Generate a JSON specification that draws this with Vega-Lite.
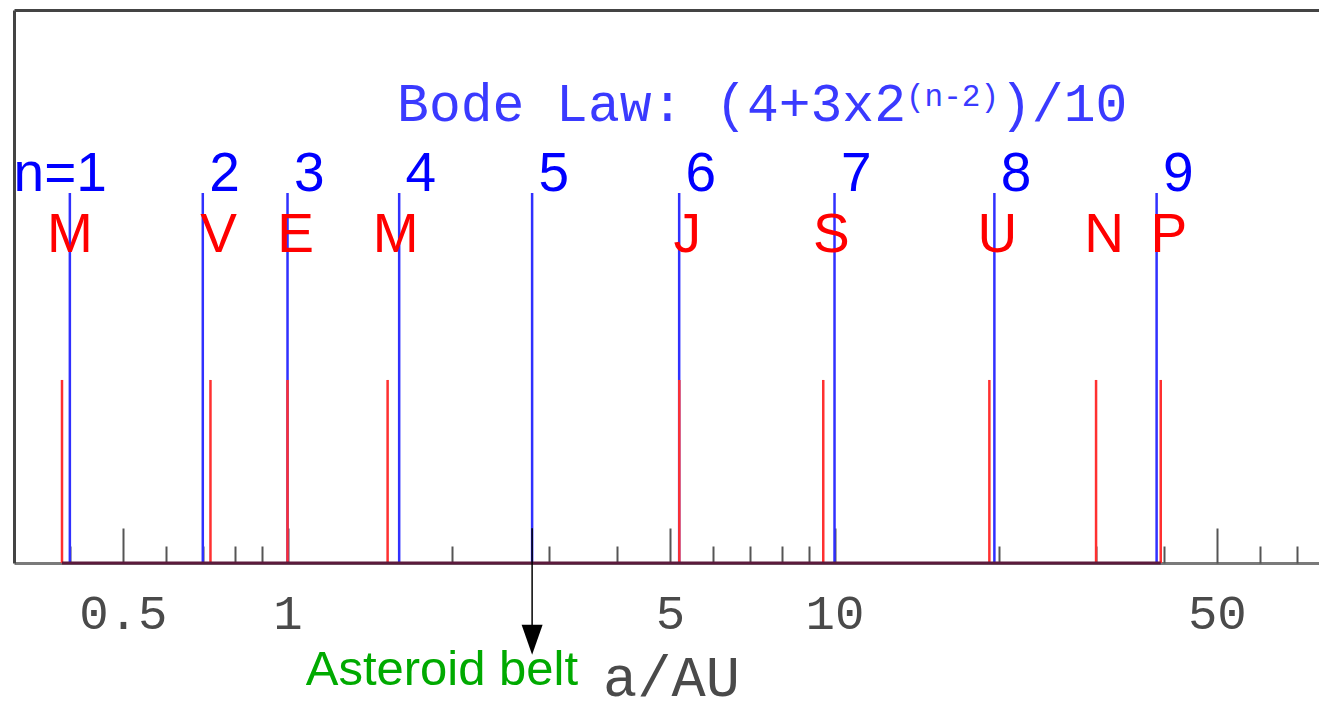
{
  "$schema": "https://vega.github.io/schema/vega-lite/v6.json",
  "width": 1305,
  "height": 553,
  "autosize": {"type": "none"},
  "padding": {"left": 14, "top": 10, "right": 0, "bottom": 148},
  "background": "white",
  "config": {"view": {"stroke": null}},
  "datasets": {
    "bode": [
      {"n": 1, "a": 0.4, "label": "n=1"},
      {"n": 2, "a": 0.7, "label": "2"},
      {"n": 3, "a": 1.0, "label": "3"},
      {"n": 4, "a": 1.6, "label": "4"},
      {"n": 5, "a": 2.8, "label": "5"},
      {"n": 6, "a": 5.2, "label": "6"},
      {"n": 7, "a": 10.0, "label": "7"},
      {"n": 8, "a": 19.6, "label": "8"},
      {"n": 9, "a": 38.8, "label": "9"}
    ],
    "planets": [
      {"planet": "Mercury", "a": 0.387, "label": "M"},
      {"planet": "Venus", "a": 0.723, "label": "V"},
      {"planet": "Earth", "a": 1.0, "label": "E"},
      {"planet": "Mars", "a": 1.524, "label": "M"},
      {"planet": "Jupiter", "a": 5.203, "label": "J"},
      {"planet": "Saturn", "a": 9.537, "label": "S"},
      {"planet": "Uranus", "a": 19.19, "label": "U"},
      {"planet": "Neptune", "a": 30.07, "label": "N"},
      {"planet": "Pluto", "a": 39.48, "label": "P"}
    ],
    "belt": [{"a": 2.8, "label": "Asteroid belt"}],
    "formula": [
      {"part": "main", "text": "Bode Law: (4+3x2"},
      {"part": "sup", "text": "(n-2)"},
      {"part": "tail", "text": ")/10"}
    ]
  },
  "resolve": {"axis": {"x": "independent", "y": "independent"}},
  "layer": [
    {
      "data": {"name": "bode"},
      "mark": {"type": "rule", "color": "#3030ff", "strokeWidth": 2.5},
      "encoding": {
        "x": {
          "field": "a", "type": "quantitative",
          "scale": {"type": "log", "domain": [0.3162, 76.86], "nice": false},
          "axis": {
            "orient": "bottom", "values": [0.5, 1, 5, 10, 50], "format": "~g",
            "ticks": false, "grid": false, "domain": true, "domainColor": "#7a7a7a", "domainWidth": 3,
            "labelFont": "Liberation Mono", "labelFontSize": 49, "labelColor": "#4a4a4a",
            "labelBaseline": "alphabetic", "labelPadding": 65, "labelFlush": false, "labelOverlap": false,
            "title": "a/AU", "titleFont": "Liberation Mono", "titleFontSize": 57, "titleFontWeight": "normal",
            "titleColor": "#4a4a4a", "titleBaseline": "alphabetic", "titleX": 657, "titleY": 132
          }
        },
        "y": {
          "datum": 66.9, "type": "quantitative",
          "scale": {"domain": [0, 100], "nice": false, "zero": false},
          "axis": {"orient": "left", "labels": false, "ticks": false, "grid": false, "domain": true, "domainColor": "#444", "domainWidth": 3, "title": null}
        },
        "y2": {"datum": 0}
      }
    },
    {
      "data": {"name": "planets"},
      "mark": {"type": "rule", "color": "#ff3030", "strokeWidth": 2.5},
      "encoding": {
        "x": {
          "field": "a", "type": "quantitative",
          "scale": {"type": "log", "domain": [0.3162, 76.86], "nice": false},
          "axis": {"orient": "bottom", "values": [0.5, 1, 5, 10, 50], "labels": false, "domain": false, "grid": false, "ticks": true, "tickSize": -35, "tickColor": "#555", "tickWidth": 2, "title": null}
        },
        "y": {"datum": 33.1, "type": "quantitative", "scale": {"domain": [0, 100], "nice": false, "zero": false}, "axis": null},
        "y2": {"datum": 0}
      }
    },
    {
      "data": {"name": "planets"},
      "mark": {"type": "rule", "color": "#5c1a3c", "strokeWidth": 3},
      "encoding": {
        "x": {
          "aggregate": "min", "field": "a", "type": "quantitative",
          "scale": {"type": "log", "domain": [0.3162, 76.86], "nice": false},
          "axis": {"orient": "bottom", "values": [0.4, 0.6, 0.7, 0.8, 0.9, 2, 3, 4, 6, 7, 8, 9, 20, 30, 40, 60, 70], "labels": false, "domain": false, "grid": false, "ticks": true, "tickSize": -17, "tickColor": "#555", "tickWidth": 2, "title": null}
        },
        "x2": {"aggregate": "max", "field": "a"},
        "y": {"datum": 0, "type": "quantitative", "scale": {"domain": [0, 100], "nice": false, "zero": false}, "axis": null}
      }
    },
    {
      "data": {"name": "bode"},
      "mark": {"type": "text", "font": "Liberation Sans", "fontSize": 55, "color": "#0000ff", "align": "right", "dx": 37, "baseline": "alphabetic"},
      "encoding": {
        "x": {
          "field": "a", "type": "quantitative",
          "scale": {"type": "log", "domain": [0.3162, 76.86], "nice": false},
          "axis": {"orient": "top", "labels": false, "ticks": false, "grid": false, "domain": true, "domainColor": "#444", "domainWidth": 3, "title": null}
        },
        "y": {"datum": 67.2, "type": "quantitative", "scale": {"domain": [0, 100], "nice": false, "zero": false}, "axis": null},
        "text": {"field": "label"}
      }
    },
    {
      "data": {"name": "planets"},
      "mark": {"type": "text", "font": "Liberation Sans", "fontSize": 55, "color": "#ff0000", "align": "center", "dx": 8, "baseline": "alphabetic"},
      "encoding": {
        "x": {"field": "a", "type": "quantitative", "scale": {"type": "log", "domain": [0.3162, 76.86], "nice": false}, "axis": null},
        "y": {"datum": 56.2, "type": "quantitative", "scale": {"domain": [0, 100], "nice": false, "zero": false}, "axis": null},
        "text": {"field": "label"}
      }
    },
    {
      "data": {"name": "formula"},
      "transform": [{"filter": "datum.part === 'main'"}],
      "mark": {"type": "text", "font": "Liberation Mono", "fontSize": 53, "color": "#3a3aff", "align": "left", "baseline": "alphabetic"},
      "encoding": {
        "x": {"datum": 1.586, "type": "quantitative", "scale": {"type": "log", "domain": [0.3162, 76.86], "nice": false}, "axis": null},
        "y": {"datum": 79.9, "type": "quantitative", "scale": {"domain": [0, 100], "nice": false, "zero": false}, "axis": null},
        "text": {"field": "text"}
      }
    },
    {
      "data": {"name": "formula"},
      "transform": [{"filter": "datum.part === 'sup'"}],
      "mark": {"type": "text", "font": "Liberation Mono", "fontSize": 31, "color": "#3a3aff", "align": "left", "baseline": "alphabetic"},
      "encoding": {
        "x": {"datum": 13.51, "type": "quantitative", "scale": {"type": "log", "domain": [0.3162, 76.86], "nice": false}, "axis": null},
        "y": {"datum": 82.7, "type": "quantitative", "scale": {"domain": [0, 100], "nice": false, "zero": false}, "axis": null},
        "text": {"field": "text"}
      }
    },
    {
      "data": {"name": "formula"},
      "transform": [{"filter": "datum.part === 'tail'"}],
      "mark": {"type": "text", "font": "Liberation Mono", "fontSize": 53, "color": "#3a3aff", "align": "left", "baseline": "alphabetic"},
      "encoding": {
        "x": {"datum": 20.07, "type": "quantitative", "scale": {"type": "log", "domain": [0.3162, 76.86], "nice": false}, "axis": null},
        "y": {"datum": 79.9, "type": "quantitative", "scale": {"domain": [0, 100], "nice": false, "zero": false}, "axis": null},
        "text": {"field": "text"}
      }
    },
    {
      "data": {"name": "belt"},
      "mark": {"type": "rule", "color": "#000000", "strokeWidth": 1.5},
      "encoding": {
        "x": {"field": "a", "type": "quantitative", "scale": {"type": "log", "domain": [0.3162, 76.86], "nice": false}, "axis": null},
        "y": {"datum": 6.3, "type": "quantitative", "scale": {"domain": [0, 100], "nice": false, "zero": false}, "axis": null},
        "y2": {"datum": -11.4}
      }
    },
    {
      "data": {"name": "belt"},
      "mark": {"type": "point", "shape": "M-0.7,-1L0.7,-1L0,1Z", "size": 900, "filled": true, "color": "#000000", "opacity": 1, "strokeWidth": 0},
      "encoding": {
        "x": {"field": "a", "type": "quantitative", "scale": {"type": "log", "domain": [0.3162, 76.86], "nice": false}, "axis": null},
        "y": {"datum": -13.9, "type": "quantitative", "scale": {"domain": [0, 100], "nice": false, "zero": false}, "axis": null}
      }
    },
    {
      "data": {"name": "belt"},
      "mark": {"type": "text", "font": "Liberation Sans", "fontSize": 49, "color": "#00aa00", "align": "right", "dx": 46, "baseline": "alphabetic"},
      "encoding": {
        "x": {"field": "a", "type": "quantitative", "scale": {"type": "log", "domain": [0.3162, 76.86], "nice": false}, "axis": null},
        "y": {"datum": -22.1, "type": "quantitative", "scale": {"domain": [0, 100], "nice": false, "zero": false}, "axis": null},
        "text": {"field": "label"}
      }
    }
  ]
}
